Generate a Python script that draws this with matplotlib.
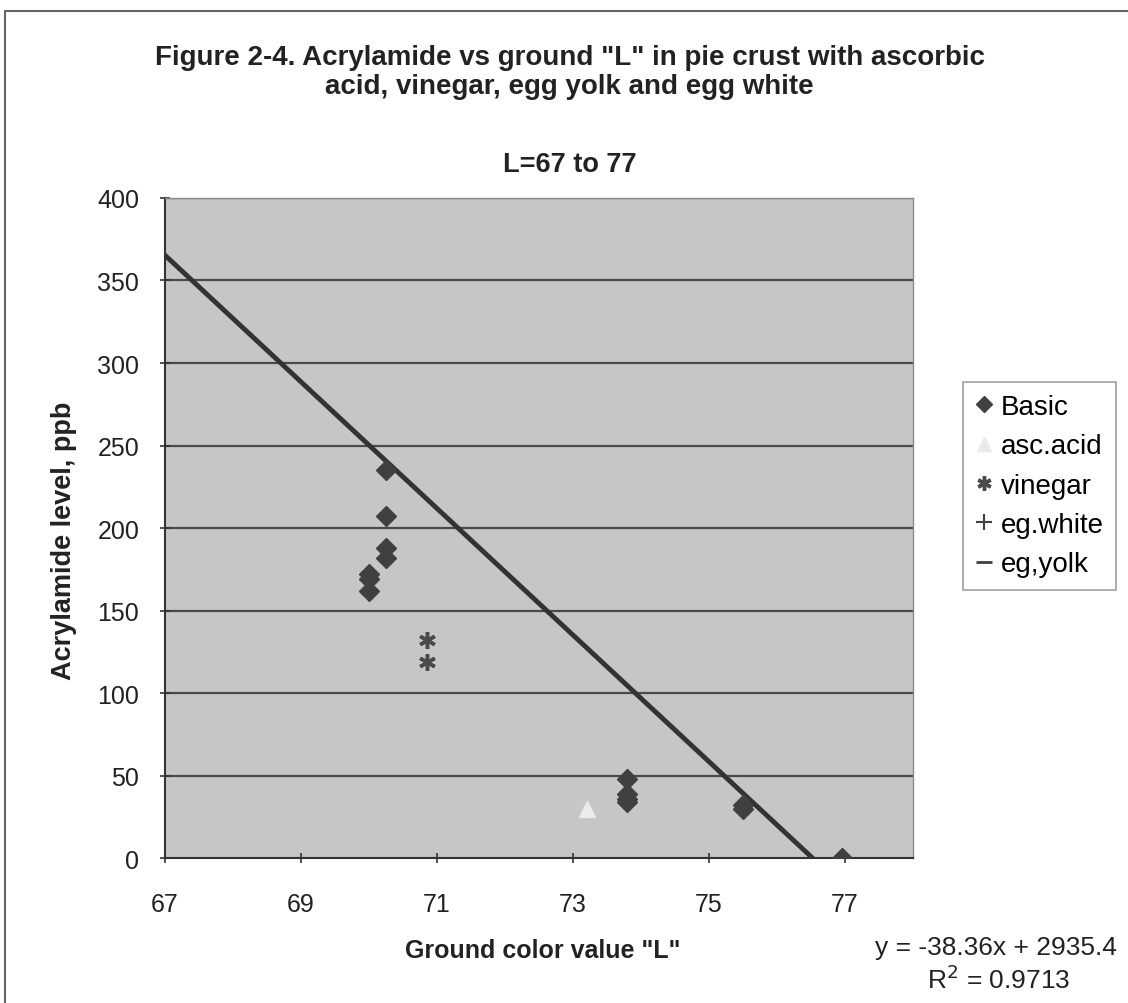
import numpy as np
import matplotlib
matplotlib.use("Agg")
import matplotlib.pyplot as plt

plt.rcParams['font.family'] = ['Liberation Sans', 'DejaVu Sans']

# data
basic_L = [70.0, 70.0, 70.0, 70.25, 70.25, 70.25, 70.25, 73.8, 73.8, 73.8, 73.8, 75.5, 75.5, 76.95]
basic_acr = [172, 169, 162, 235, 207, 188, 182, 48, 39, 36, 34, 32, 30, 0]
asc_L = [73.2]
asc_acr = [30]
vinegar_L = [70.85, 70.85]
vinegar_acr = [132, 119]
egwhite_L = []
egwhite_acr = []
egyolk_L = []
egyolk_acr = []

slope = -38.36
intercept = 2935.4
r2 = 0.9713

x_ticks = [67, 69, 71, 73, 75, 77]
y_ticks = [0, 50, 100, 150, 200, 250, 300, 350, 400]

fig = plt.figure(figsize=(11.28, 10.04), dpi=100)
fig.patch.set_facecolor('white')
ax = fig.add_axes([0.1463, 0.1444, 0.8094 - 0.1463, 0.8018 - 0.1444])
ax.set_facecolor('#c6c6c6')

for y in y_ticks[1:]:
    ax.axhline(y, color='#4a4a4a', lw=1.6, zorder=1)

ax.plot(basic_L, basic_acr, 'D', color='#404040', ms=10, zorder=4, label='Basic')
ax.plot(asc_L, asc_acr, '^', color='#ebebeb', ms=12, zorder=4, label='asc.acid')
ax.plot(vinegar_L, vinegar_acr, marker=(6, 2, 0), ls='none', color='#4a4a4a', ms=12, mew=2.5,
        zorder=4, label='vinegar')
ax.plot(egwhite_L, egwhite_acr, '+', color='#404040', ms=14, mew=1.5, ls='none', label='eg.white')
ax.plot(egyolk_L, egyolk_acr, '_', color='#404040', ms=14, mew=2, ls='none', label='eg,yolk')

xs = np.array([67, 78])
ax.plot(xs, slope * xs + intercept, color='#333333', lw=3.5, zorder=3)

ax.set_xlim(67, 78)
ax.set_ylim(0, 400)
ax.set_xticks(x_ticks)
ax.set_yticks(y_ticks)
ax.tick_params(labelsize=18, length=7, width=1.2, color='#333333', labelcolor='#222222',
               direction='inout')
ax.tick_params(axis='x', pad=21)
ax.tick_params(axis='y', pad=15)
for side in ['top', 'right']:
    ax.spines[side].set_color('#8a8a8a')
    ax.spines[side].set_linewidth(1)
for side in ['left', 'bottom']:
    ax.spines[side].set_color('#333333')
    ax.spines[side].set_linewidth(1.5)

ax.set_xlabel('Ground color value "L"', fontsize=18, fontweight='bold', color='#222222')
ax.set_ylabel('Acrylamide level, ppb', fontsize=19.5, fontweight='bold', color='#222222')
ax.xaxis.set_label_coords(0.505, -0.121)
ax.yaxis.set_label_coords(-0.118, 0.482)

fig.text(0.505, 0.955, 'Figure 2-4. Acrylamide vs ground "L" in pie crust with ascorbic\nacid, vinegar, egg yolk and egg white',
         ha='center', va='top', fontsize=20, fontweight='bold', linespacing=1.12, color='#222222')
fig.text(0.505, 0.836, 'L=67 to 77', ha='center', va='center', fontsize=19.5, fontweight='bold', color='#222222')

leg = fig.legend(loc='upper left', bbox_to_anchor=(0.854, 0.619), fontsize=20, frameon=True,
                 fancybox=False, edgecolor='#888888', handlelength=0.6, handletextpad=0.3,
                 labelspacing=0.48, borderpad=0.45, markerscale=0.85, borderaxespad=0)
leg.get_frame().set_linewidth(1.2)

fig.text(0.99, 0.056, 'y = -38.36x + 2935.4', ha='right', va='center', fontsize=19, color='#222222')
fig.text(0.949, 0.024, 'R$^2$ = 0.9713', ha='right', va='center', fontsize=19, color='#222222')

# outer chart border
fig.add_artist(plt.Rectangle((0.004, -0.01), 1.0, 0.998, transform=fig.transFigure, fill=False,
                             edgecolor='#666666', lw=1.5))

fig.savefig('out.png', dpi=100)
